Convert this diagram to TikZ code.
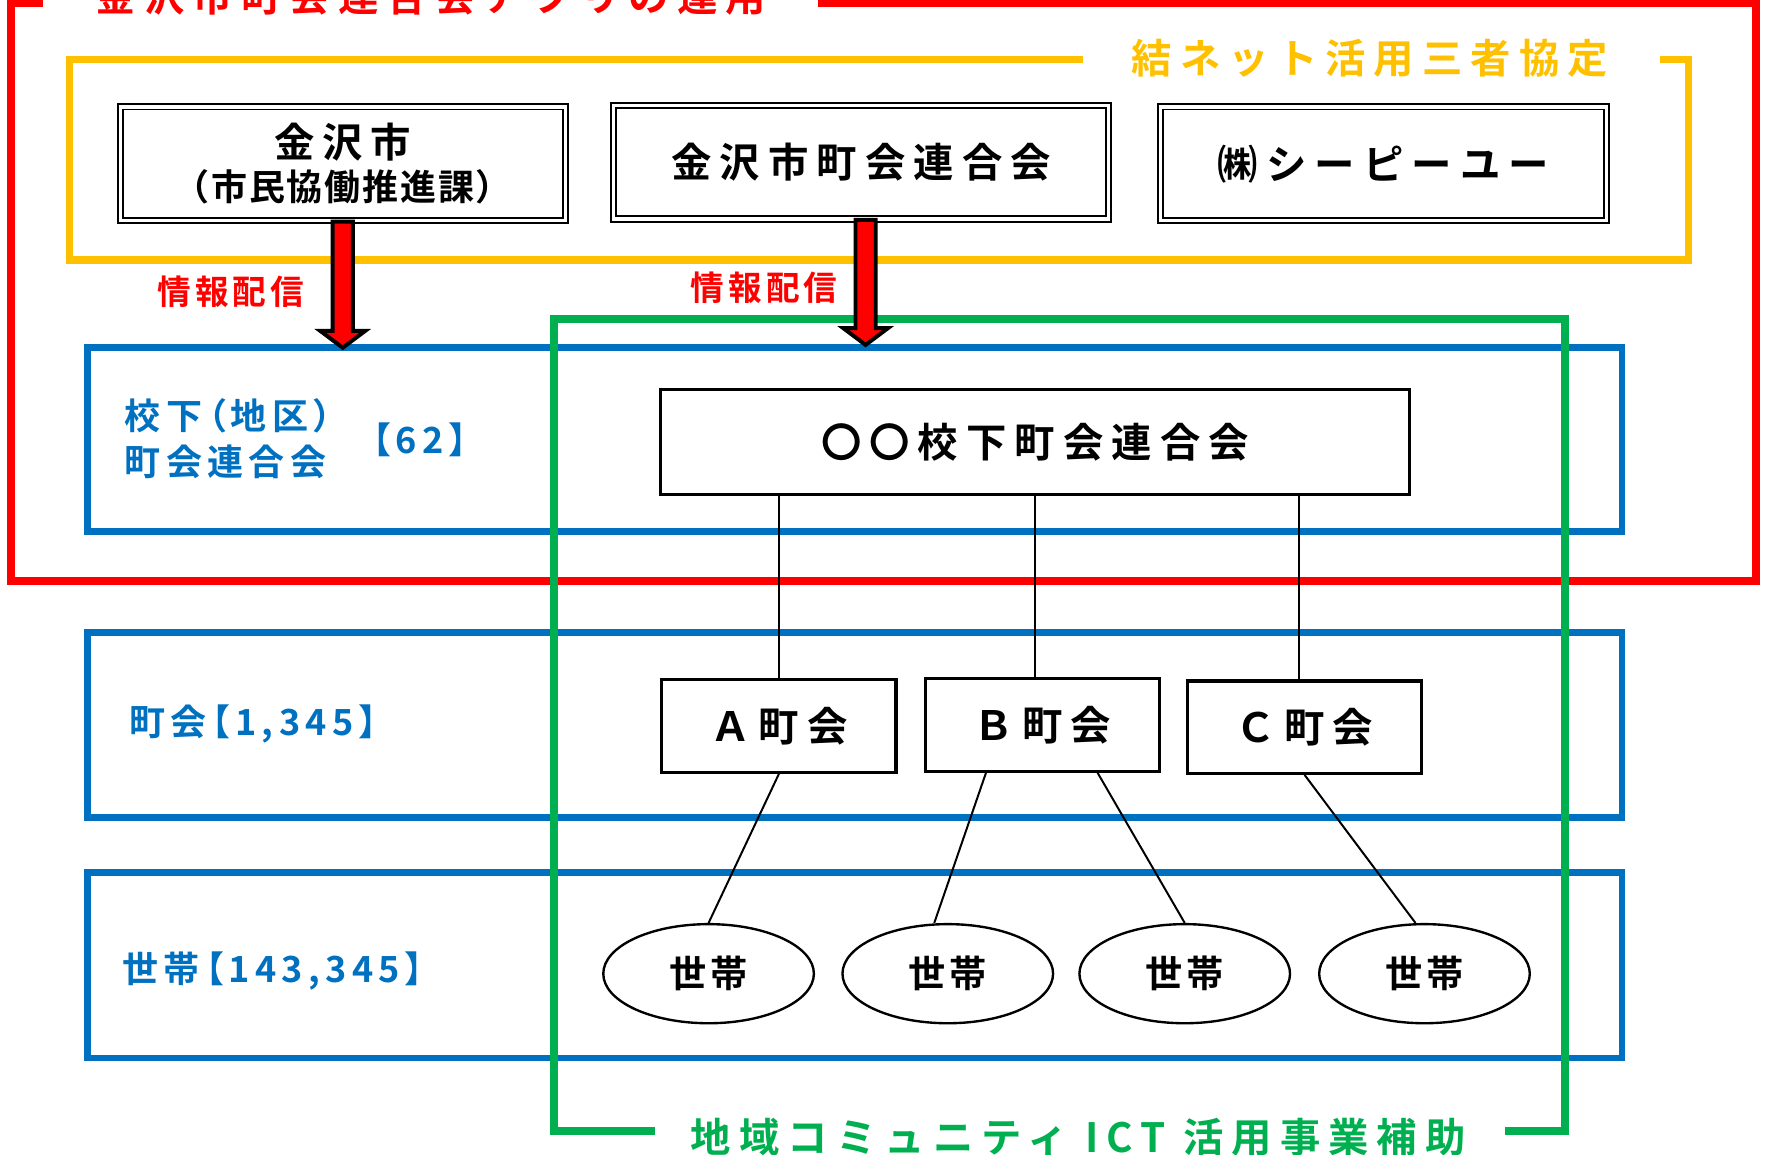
\documentclass[tikz,border=0pt]{standalone}
\usepackage{fontspec}
\newfontfamily\jpwide{Noto Sans CJK JP}[UprightFont=* Bold, LetterSpace=20]
\newfontfamily\jpmid{Noto Sans CJK JP}[UprightFont=* Bold, LetterSpace=12]
\newfontfamily\jptight{Noto Sans CJK JP}[UprightFont=* Bold, LetterSpace=5]
\newfontfamily\jpprop{Noto Sans CJK JP}[UprightFont=* Bold, LetterSpace=15, RawFeature=+palt]
\newcommand{\boxjp}{\jpwide\fontsize{10.2}{12.2}\selectfont}
\newcommand{\subjp}{\jptight\fontsize{9.1}{10.8}\selectfont}
\newcommand{\labeljp}{\jpprop\fontsize{9.1}{11.6}\selectfont}
\newcommand{\infojp}{\jpmid\fontsize{8.5}{10}\selectfont}
\newcommand{\hhjp}{\jpmid\fontsize{9.4}{11}\selectfont}
\usetikzlibrary{positioning, calc, shapes.geometric}
\definecolor{appred}{HTML}{FF0000}
\definecolor{pactyellow}{HTML}{FFC000}
\definecolor{layerblue}{HTML}{0070C0}
\definecolor{ictgreen}{HTML}{00B050}

\begin{document}
\begin{tikzpicture}[x=0.01cm, y=-0.01cm,
  frame/.style={line width=2pt},
  dblbox/.style={draw=black, line width=0.5pt, double=white, double distance=0.8pt, minimum height=1.01cm, inner sep=0pt, font=\boxjp},
  plainbox/.style={draw=black, line width=0.8pt, fill=white, inner sep=0pt, font=\boxjp},
  townbox/.style={plainbox, minimum width=2.08cm, minimum height=0.82cm},
  household/.style={ellipse, draw=black, line width=0.6pt, fill=white, minimum width=1.87cm, minimum height=0.88cm, inner sep=0pt, font=\hhjp},
  link/.style={draw=black, line width=0.5pt},
  infoarrow/.style={draw=black, line width=1pt, fill=appred, line join=miter},
  bluelabel/.style={text=layerblue, font=\labeljp, anchor=west, inner sep=0pt}]

    \useasboundingbox (0,0) rectangle (1568,1026);

    %Frames
    \draw[frame, draw=appred] (38,3) -- (10,3) -- (10,516) -- (1560,516) -- (1560,3) -- (727,3);
    \draw[frame, line width=1.8pt, draw=pactyellow] (962,53) -- (62,53) -- (62,231) -- (1500,231) -- (1500,53) -- (1475,53);
    \foreach \top/\bot in {309/472, 562/726, 775/940}
        \draw[frame, line width=1.7pt, draw=layerblue] (78,\top) rectangle (1441,\bot);
    \draw[frame, draw=ictgreen] (582,1005) -- (492,1005) -- (492,283) -- (1390,283) -- (1390,1005) -- (1337,1005);

    %Nodes
    \node[text=appred, font=\boxjp](apptitle) at (383,-3){金沢市町会連合会アプリの運用};
    \node[text=pactyellow, font=\boxjp](pacttitle) at (1217,52){結ネット活用三者協定};
    \node[text=ictgreen, font=\boxjp](icttitle) at (958,1010){地域コミュニティ ICT 活用事業補助};

    \node[dblbox, minimum width=3.95cm, align=center, font=\subjp](city) at (304.5,145.5){{\boxjp 金沢市}\\（市民協働推進課）};
    \node[dblbox, minimum width=4.40cm](federation) at (765,144){金沢市町会連合会};
    \node[dblbox, minimum width=3.96cm](cpu) at (1229,145.5){㈱シーピーユー};

    \node[text=appred, font=\infojp](info1) at (205,259){情報配信};
    \node[text=appred, font=\infojp](info2) at (679,256){情報配信};

    \node[bluelabel, align=left](districtname) at (110,389.5){校下（地区）\\町会連合会};
    \node[bluelabel](districtcount) at (330,391){【62】};
    \node[bluelabel](towncount) at (114,643){町会【1,345】};
    \node[bluelabel](hhcount) at (108,863){世帯【143,345】};

    \node[plainbox, minimum width=6.65cm, minimum height=0.93cm](school) at (919.5,392.5){〇〇校下町会連合会};
    \node[townbox](townA) at (692,645){Ａ町会};
    \node[townbox](townB) at (926,644){Ｂ町会};
    \node[townbox](townC) at (1159,646){Ｃ町会};
    \foreach \x [count=\i] in {629.5,842,1052.5,1265.5}
        \node[household](hh\i) at (\x,865){世帯};

    %Lines
    \draw[link] (townA.north |- school.south) -- (townA.north);
    \draw[link] (school.south) -- (school.south |- townB.north);
    \draw[link] ([xshift=-0.05cm]townC.north |- school.south) -- ([xshift=-0.05cm]townC.north);
    \draw[link] (townA.south) -- (hh1.north);
    \draw[link] ([xshift=-0.5cm]townB.south) -- ([xshift=-0.12cm]hh2.north);
    \draw[link] ([xshift=0.49cm]townB.south) -- (hh3.north);
    \draw[link] (townC.south) -- ([xshift=-0.08cm]hh4.north);

    %Arrows
    \draw[infoarrow] ([xshift=-0.09cm]city.south) -- ++(18,0) -- ++(0,97) -- ++(11,0) -- ++(-20,15) -- ++(-20,-15) -- ++(11,0) -- cycle;
    \draw[infoarrow] ([xshift=-0.05cm]federation.south) -- ++(18,0) -- ++(0,96) -- ++(11,0) -- ++(-20,15) -- ++(-20,-15) -- ++(11,0) -- cycle;

\end{tikzpicture}
\end{document}
